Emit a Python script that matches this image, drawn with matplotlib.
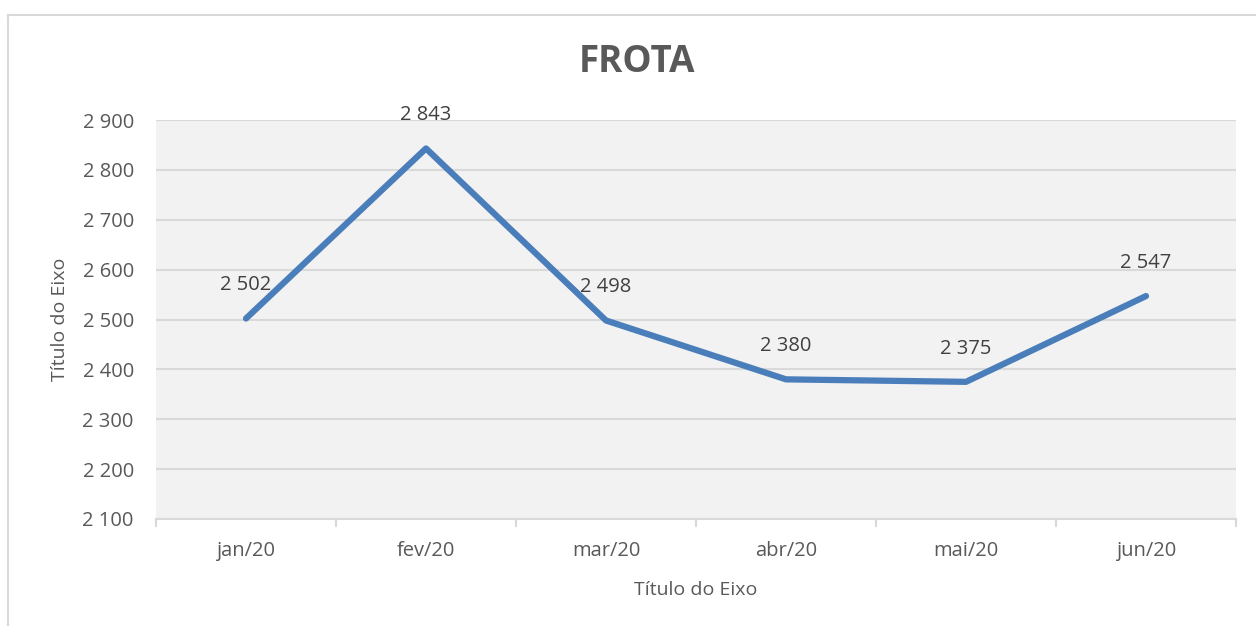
import matplotlib.pyplot as plt
from matplotlib.lines import Line2D
from matplotlib.ticker import FuncFormatter, MultipleLocator

plt.rcParams['font.family'] = ['Open Sans', 'DejaVu Sans']

# data
months = ["jan/20", "fev/20", "mar/20", "abr/20", "mai/20", "jun/20"]
frota = [2502, 2843, 2498, 2380, 2375, 2547]

W, H = 1256, 626
fig = plt.figure(figsize=(W / 100, H / 100), dpi=100)

# plot area in pixels (left, top, right, bottom)
L, T, R, B = 156, 120, 1236, 519
ax = fig.add_axes([L / W, 1 - B / H, (R - L) / W, (B - T) / H])
ax.set_facecolor("#F2F2F2")

x = list(range(len(months)))
ax.plot(x, frota, color="#4A7EBB", lw=4.5, solid_capstyle="round",
        solid_joinstyle="round", zorder=3)

for xi, v in zip(x, frota):
    ax.annotate(f"{v:,}".replace(",", " "), (xi, v), xytext=(0, 24),
                textcoords="offset points", ha="center", va="center",
                fontsize=14.5, color="#404040", zorder=4)

ax.set_xlim(-0.5, len(months) - 0.5)
ax.set_ylim(2100, 2900)
ax.yaxis.set_major_locator(MultipleLocator(100))
ax.yaxis.set_major_formatter(FuncFormatter(lambda v, p: f"{int(v):,}".replace(",", " ")))
ax.grid(axis="y", color="#D9D9D9", lw=1.5, zorder=1)
ax.set_axisbelow(True)

ax.set_xticks(x)
ax.set_xticklabels(months)
ax.set_xticks([i - 0.5 for i in range(len(months) + 1)], minor=True)
ax.tick_params(axis="x", which="major", length=0, pad=16, labelsize=14.5, labelcolor="#595959")
ax.tick_params(axis="x", which="minor", length=6, width=1.5, color="#D9D9D9")
ax.tick_params(axis="y", length=0, pad=16, labelsize=14.5, labelcolor="#595959")

for s in ["top", "right", "left"]:
    ax.spines[s].set_visible(False)
ax.spines["bottom"].set_color("#D9D9D9")
ax.spines["bottom"].set_linewidth(1.5)

ax.set_xlabel("Título do Eixo", fontsize=14, color="#595959", labelpad=14)
ax.set_ylabel("Título do Eixo", fontsize=14, color="#595959", labelpad=10)

fig.text(637 / W, 1 - 62 / H, "FROTA", ha="center", va="center",
         fontsize=26.5, fontweight="bold", color="#595959")

# outer chart border (only top and left edges are in view)
fig.add_artist(Line2D([8 / W, 8 / W], [0, 1 - 15 / H], transform=fig.transFigure,
                      color="#D9D9D9", lw=1.5))
fig.add_artist(Line2D([8 / W, 1], [1 - 15 / H, 1 - 15 / H], transform=fig.transFigure,
                      color="#D9D9D9", lw=1.5))

fig.savefig("out.png", dpi=100)
